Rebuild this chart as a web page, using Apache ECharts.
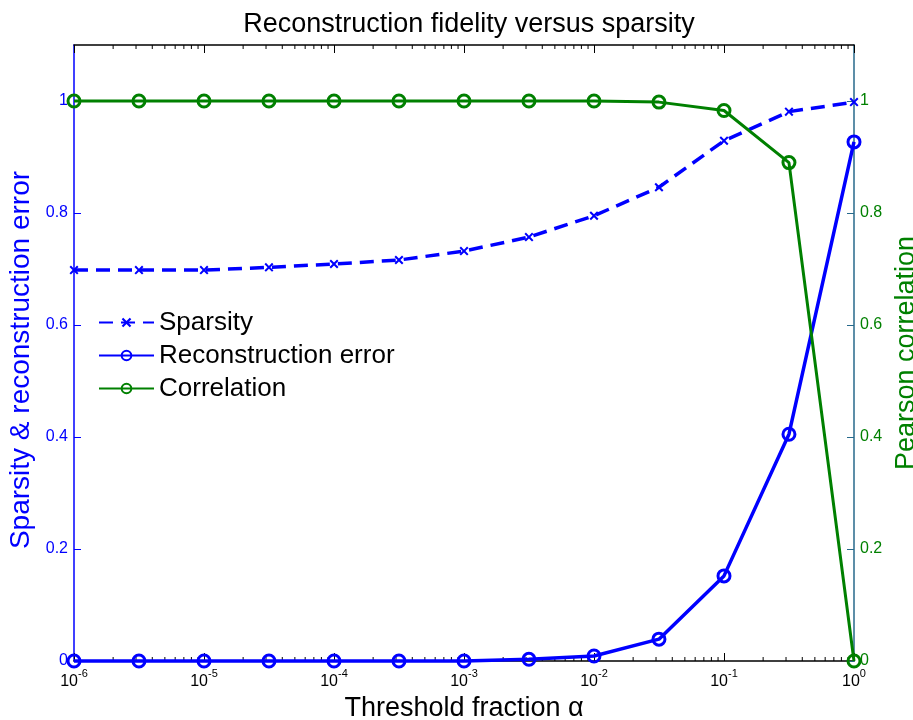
<!DOCTYPE html>
<html>
<head>
<meta charset="utf-8">
<script src="https://cdn.jsdelivr.net/npm/echarts@6/dist/echarts.min.js"></script>
<style>
  html, body { margin: 0; padding: 0; background: #fff; }
  #chart { width: 913px; height: 720px; }
</style>
</head>
<body>
<div id="chart"></div>
<script>
// Threshold fractions (half-decade steps from 1e-6 to 1)
const thresholds = [1e-6, 3.16e-6, 1e-5, 3.16e-5, 1e-4, 3.16e-4, 1e-3, 3.16e-3, 1e-2, 3.16e-2, 1e-1, 3.16e-1, 1];
const sparsity = [0.698, 0.698, 0.698, 0.703, 0.709, 0.716, 0.732, 0.757, 0.795, 0.846, 0.929, 0.981, 0.998];
const reconError = [0, 0, 0, 0, 0, 0, 0, 0.003, 0.009, 0.039, 0.152, 0.405, 0.927];
const correlation = [1, 1, 1, 1, 1, 1, 1, 1, 1, 0.998, 0.983, 0.890, 0];
const yTicks = [0, 0.2, 0.4, 0.6, 0.8, 1];

const seriesNames = ['Sparsity', 'Reconstruction error', 'Correlation'];
const titleText = 'Reconstruction fidelity versus sparsity';
const xName = 'Threshold fraction \u03b1';
const yLeftName = 'Sparsity & reconstruction error';
const yRightName = 'Pearson correlation';

const BLUE = '#0000ff';
const GREEN = '#008000';
const RIGHT_AXIS = '#27698b';
const FONT = '"Liberation Sans", Arial, Helvetica, sans-serif';

// Minor log ticks (2..9 x 10^k) between the decades
const minorTicks = [];
for (let e = -6; e < 0; e++) {
  for (let m = 2; m <= 9; m++) minorTicks.push([m * Math.pow(10, e)]);
}

// Bold "x" marker
const crossSymbol = 'path://M0,1.6 L1.6,0 L5,3.4 L8.4,0 L10,1.6 L6.6,5 L10,8.4 L8.4,10 L5,6.6 L1.6,10 L0,8.4 L3.4,5 Z';

function pairs(ys) { return thresholds.map((x, i) => [x, ys[i]]); }

function yLabel(v) {
  for (const t of yTicks) if (Math.abs(v - t) < 1e-9) return String(t);
  return '';
}

const chart = echarts.init(document.getElementById('chart'), null, { renderer: 'canvas' });

const option = {
  animation: false,
  backgroundColor: '#fff',
  title: {
    text: titleText,
    left: 464,
    textAlign: 'center',
    top: 6,
    textStyle: { fontFamily: FONT, fontSize: 27, fontWeight: 'normal', color: '#000' }
  },
  grid: { left: 74, right: 59, top: 45, bottom: 59, containLabel: false, outerBoundsMode: 'none' },
  legend: {
    orient: 'vertical',
    left: 93,
    top: 304,
    itemWidth: 55,
    itemHeight: 12,
    itemGap: 6,
    data: seriesNames,
    textStyle: { fontFamily: FONT, fontSize: 26, color: '#000', lineHeight: 27 }
  },
  xAxis: [
    {
      type: 'log',
      logBase: 10,
      min: 1e-6,
      max: 1,
      splitNumber: 6,
      name: xName,
      nameLocation: 'middle',
      nameGap: 30,
      nameTextStyle: { fontFamily: FONT, fontSize: 27, color: '#000' },
      axisLine: { onZero: false, lineStyle: { color: '#000', width: 1.5 } },
      axisTick: { inside: true, length: 8, lineStyle: { color: '#000', width: 1 } },
      splitLine: { show: false },
      axisLabel: {
        margin: 7,
        formatter: function (v) {
          const e = Math.round(Math.log10(v));
          return '{b|10}{s|' + e + '}';
        },
        rich: {
          b: { fontFamily: FONT, fontSize: 16, color: '#000', verticalAlign: 'bottom', lineHeight: 22 },
          s: { fontFamily: FONT, fontSize: 11, color: '#000', verticalAlign: 'top', lineHeight: 22 }
        }
      }
    },
    {
      type: 'log',
      logBase: 10,
      min: 1e-6,
      max: 1,
      splitNumber: 6,
      position: 'top',
      axisLine: { onZero: false, lineStyle: { color: '#000', width: 1.5 } },
      axisTick: { inside: true, length: 8, lineStyle: { color: '#000', width: 1 } },
      axisLabel: { show: false },
      splitLine: { show: false }
    }
  ],
  yAxis: [
    {
      type: 'value',
      position: 'left',
      min: 0,
      max: 1.1,
      interval: 0.2,
      name: yLeftName,
      nameLocation: 'middle',
      nameRotate: 90,
      nameGap: 38,
      nameTextStyle: { fontFamily: FONT, fontSize: 28, color: BLUE, padding: [0, 14, 0, 0] },
      axisLine: { show: true, onZero: false, lineStyle: { color: BLUE, width: 1.5 } },
      axisTick: { show: true, inside: true, length: 7, lineStyle: { color: BLUE, width: 1 } },
      splitLine: { show: false },
      axisLabel: { margin: 6, color: BLUE, fontFamily: FONT, fontSize: 16, formatter: yLabel, showMaxLabel: false }
    },
    {
      type: 'value',
      position: 'right',
      min: 0,
      max: 1.1,
      interval: 0.2,
      name: yRightName,
      nameLocation: 'middle',
      nameRotate: 90,
      nameGap: 35,
      nameTextStyle: { fontFamily: FONT, fontSize: 27, color: GREEN },
      axisLine: { show: true, onZero: false, lineStyle: { color: RIGHT_AXIS, width: 1.5 } },
      axisTick: { show: true, inside: true, length: 7, lineStyle: { color: RIGHT_AXIS, width: 1 } },
      splitLine: { show: false },
      axisLabel: { margin: 6, color: GREEN, fontFamily: FONT, fontSize: 16, formatter: yLabel, showMaxLabel: false }
    }
  ],
  series: [
    {
      type: 'custom',
      name: 'minor ticks',
      xAxisIndex: 0,
      yAxisIndex: 0,
      silent: true,
      clip: false,
      data: minorTicks,
      renderItem: function (params, api) {
        const v = api.value(0);
        const b = api.coord([v, 0]);
        const t = api.coord([v, 1.1]);
        const style = { stroke: '#000', lineWidth: 1 };
        return {
          type: 'group',
          children: [
            { type: 'line', shape: { x1: b[0], y1: b[1], x2: b[0], y2: b[1] - 4 }, style: style },
            { type: 'line', shape: { x1: t[0], y1: t[1], x2: t[0], y2: t[1] + 4 }, style: style }
          ]
        };
      }
    },
    {
      name: seriesNames[0],
      type: 'line',
      yAxisIndex: 0,
      data: pairs(sparsity),
      clip: false,
      symbol: crossSymbol,
      symbolSize: 9,
      lineStyle: { color: BLUE, width: 3.5, type: [14, 8] },
      itemStyle: { color: BLUE }
    },
    {
      name: seriesNames[1],
      type: 'line',
      yAxisIndex: 0,
      data: pairs(reconError),
      clip: false,
      symbol: 'circle',
      symbolSize: 12,
      lineStyle: { color: BLUE, width: 3.5 },
      itemStyle: { color: 'rgba(255,255,255,0)', borderColor: BLUE, borderWidth: 3 }
    },
    {
      name: seriesNames[2],
      type: 'line',
      yAxisIndex: 1,
      data: pairs(correlation),
      clip: false,
      symbol: 'circle',
      symbolSize: 12,
      lineStyle: { color: GREEN, width: 3 },
      itemStyle: { color: 'rgba(255,255,255,0)', borderColor: GREEN, borderWidth: 3 }
    }
  ]
};

chart.setOption(option);
</script>
</body>
</html>
